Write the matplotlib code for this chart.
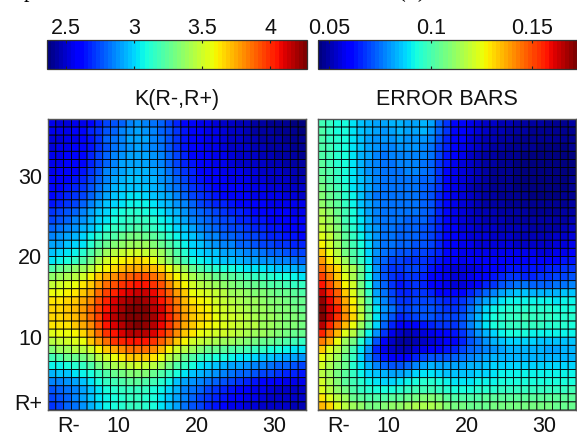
import numpy as np
import matplotlib
matplotlib.use("Agg")
import matplotlib.pyplot as plt

plt.rcParams['font.family'] = ['Liberation Sans', 'DejaVu Sans']

# K(R-,R+) in hundredths, top row (R+ = 36) first, columns R- = 1..33
K_rows = [
[254,252,252,254,256,262,266,272,276,280,285,287,285,283,278,272,268,262,260,256,254,252,250,248,246,245,243,242,241,240,239,238,237],
[254,254,256,258,262,266,270,276,280,284,288,290,288,285,280,275,270,265,262,258,256,254,252,250,248,246,244,243,242,241,240,239,238],
[252,252,254,256,258,264,270,278,282,286,290,290,290,286,282,276,270,264,260,258,256,254,252,250,248,246,245,244,243,242,241,240,239],
[252,254,256,258,260,264,270,276,282,286,288,290,288,286,282,276,270,264,260,258,256,254,252,250,250,248,246,245,244,243,242,241,240],
[254,256,258,260,262,266,272,278,284,288,292,292,292,288,284,278,272,266,262,260,258,256,254,252,250,250,248,246,245,244,243,242,241],
[254,256,258,260,262,268,274,280,286,290,292,292,291,289,286,280,274,268,264,260,258,256,254,252,250,250,250,248,246,245,244,243,242],
[256,258,260,262,264,270,276,284,289,292,294,294,293,291,287,282,276,270,266,262,260,258,256,256,254,252,252,250,250,248,246,245,244],
[258,258,260,264,266,272,278,285,291,294,296,296,295,293,289,284,278,272,268,264,262,260,258,256,256,254,252,252,250,250,248,247,246],
[260,262,264,266,270,276,282,288,294,296,298,298,298,295,291,286,281,276,270,268,264,262,260,258,258,256,254,254,252,252,250,250,248],
[262,264,266,270,274,280,286,292,297,300,302,302,301,298,294,290,285,280,274,270,268,264,262,260,260,258,256,256,254,254,252,252,250],
[264,266,270,274,278,284,290,296,300,303,306,306,305,302,298,294,289,284,278,274,270,268,266,264,262,260,258,258,256,256,254,254,254],
[270,272,276,280,284,290,296,301,306,309,312,312,310,307,303,298,293,288,282,278,276,272,270,268,266,264,262,260,260,258,258,256,256],
[274,276,278,284,288,294,299,304,309,313,316,316,315,311,307,302,296,292,286,282,278,276,274,272,268,266,264,264,262,260,260,258,258],
[280,282,284,288,294,298,304,310,314,316,318,320,318,314,310,306,300,296,290,286,282,280,276,274,272,270,268,266,264,264,262,260,260],
[284,288,290,294,300,306,312,318,322,326,330,330,328,324,318,312,306,300,296,290,286,284,280,278,276,274,272,270,268,266,264,264,262],
[290,292,296,300,304,312,320,328,332,336,340,340,338,334,328,320,314,306,300,296,292,288,286,284,280,278,276,274,272,270,270,268,266],
[298,300,302,306,312,320,330,338,344,348,350,350,348,344,338,330,322,312,304,300,298,296,292,290,288,286,284,282,280,278,276,274,272],
[304,306,310,316,322,330,342,350,356,360,364,366,362,356,346,336,328,318,310,306,304,300,298,296,294,292,290,288,288,286,284,282,280],
[322,326,330,336,340,346,354,360,366,372,375,376,376,373,366,358,348,338,328,320,316,312,310,308,306,304,302,302,300,298,296,294,292],
[335,338,342,346,352,360,368,376,382,388,391,392,392,388,380,370,360,350,342,336,332,328,326,324,320,318,316,314,312,310,308,306,304],
[348,350,354,358,362,370,378,388,394,400,403,404,404,400,392,382,370,360,350,346,342,338,336,332,330,328,326,324,322,320,318,316,314],
[356,358,360,364,368,376,386,396,402,408,412,414,414,408,400,390,378,368,358,354,350,348,344,340,338,336,334,332,330,328,326,324,322],
[362,364,366,370,374,382,392,402,410,416,420,422,421,414,406,396,384,372,364,360,356,352,348,344,342,340,338,336,334,332,330,328,326],
[366,366,368,372,378,386,396,406,414,420,425,427,426,418,410,400,388,376,368,364,360,354,350,348,346,342,340,338,336,334,332,330,328],
[366,366,368,372,378,386,396,408,416,422,426,427,427,420,412,402,390,378,370,366,362,356,352,350,348,344,342,340,338,336,334,332,330],
[362,362,364,368,374,382,392,404,412,418,423,425,424,416,408,398,386,376,368,364,360,358,354,352,348,346,344,340,338,336,334,332,330],
[354,356,358,360,366,376,386,398,406,412,416,418,417,410,402,392,380,370,362,358,354,352,350,348,346,342,340,338,336,332,330,328,326],
[344,348,350,354,358,368,378,388,398,402,405,406,405,400,390,380,368,360,352,348,344,342,340,338,336,332,330,328,326,324,322,318,316],
[334,338,340,344,346,352,360,370,376,382,386,388,388,380,372,360,352,344,338,332,328,326,324,322,320,318,316,314,310,308,306,304,302],
[318,322,326,328,330,336,344,352,358,364,368,370,370,364,356,346,338,328,322,316,312,310,308,306,304,302,300,298,296,294,292,290,288],
[306,306,310,312,316,322,330,336,342,346,348,350,348,344,338,330,322,314,308,304,300,298,294,292,290,288,286,284,282,280,278,276,274],
[294,296,298,302,306,310,316,322,326,330,332,334,332,328,322,316,310,302,298,294,290,288,284,282,280,278,276,274,272,270,268,266,264],
[284,286,288,292,298,304,308,314,318,320,324,324,322,318,312,306,298,292,288,284,282,278,276,272,270,268,264,262,260,258,256,256,254],
[276,278,282,286,292,298,304,308,312,314,316,316,314,310,306,300,294,286,282,278,274,270,268,264,262,258,256,254,252,250,250,250,248],
[272,276,280,284,290,296,302,306,310,312,314,314,312,308,304,298,292,284,278,274,270,266,264,260,258,256,254,252,250,250,250,248,248],
[270,274,278,282,288,294,300,306,310,312,314,314,312,308,304,298,290,282,276,272,268,264,260,256,254,252,252,250,250,248,248,246,246],
]

# Error bars in thousandths, same row and column order
E_rows = [
[100,97,93,93,90,86,84,82,81,84,84,82,82,84,82,74,68,62,62,58,56,54,53,52,51,50,50,49,49,48,48,48,49],
[101,98,94,94,90,86,83,81,80,82,83,81,81,83,80,73,67,61,60,57,55,53,52,51,50,49,49,48,48,47,47,47,48],
[101,98,95,94,90,85,82,80,79,80,81,80,80,80,78,71,66,61,59,56,54,52,51,50,49,48,48,47,47,47,47,47,47],
[102,99,95,94,90,85,82,79,78,78,79,79,79,78,76,70,65,60,58,55,53,51,50,49,48,48,47,47,46,46,46,46,47],
[102,99,96,93,89,84,81,78,76,77,78,78,78,77,75,69,64,59,57,54,52,50,49,48,48,47,46,46,46,46,46,46,46],
[103,100,96,93,89,84,80,77,75,75,77,77,77,76,74,68,63,58,56,53,51,50,49,48,47,46,46,45,45,45,45,46,46],
[104,101,97,93,90,84,80,77,75,75,76,77,77,75,73,67,62,58,55,53,51,49,48,47,47,46,46,45,45,45,45,45,46],
[106,102,98,94,90,85,81,77,75,75,76,76,76,74,73,67,62,58,55,53,51,49,48,47,47,46,46,45,45,45,46,46,47],
[108,104,99,95,90,85,81,77,75,75,76,76,75,74,72,67,62,58,55,52,50,49,48,47,47,46,46,46,46,46,46,46,47],
[110,106,101,96,91,85,80,76,75,75,76,75,75,74,72,66,62,58,55,53,51,50,49,48,48,47,47,46,46,46,46,47,48],
[112,108,103,97,92,86,81,77,75,75,75,75,75,74,72,66,62,58,56,53,51,50,49,49,48,48,47,47,47,47,47,48,49],
[116,112,106,99,93,88,82,78,76,75,75,75,75,74,71,66,62,58,56,54,52,51,51,50,49,49,49,48,48,48,48,49,50],
[118,114,108,100,94,90,84,78,76,75,75,74,74,73,70,66,62,58,56,54,53,52,52,51,50,50,50,49,49,49,49,50,52],
[120,116,110,102,96,90,84,79,76,75,74,74,74,72,70,66,62,59,56,55,54,53,53,52,51,51,51,50,50,50,50,51,53],
[124,119,112,104,98,91,85,80,76,75,74,74,74,72,70,66,62,59,57,55,55,55,54,53,53,52,52,52,52,52,53,54,56],
[128,122,114,105,99,93,87,80,76,75,74,73,72,71,70,65,62,60,58,57,56,56,56,56,55,54,54,54,54,54,55,56,57],
[134,126,117,108,102,96,88,80,75,73,72,71,70,70,68,65,61,60,58,58,58,58,58,58,57,57,57,57,56,56,57,58,60],
[140,130,122,114,104,98,90,78,73,70,70,68,68,68,66,63,60,59,58,59,59,59,60,60,60,60,60,61,61,61,62,63,64],
[146,138,132,120,116,105,92,80,72,68,68,70,70,67,63,60,58,56,55,56,58,60,61,62,64,64,63,63,64,65,66,67,68],
[152,144,134,124,116,106,92,80,72,68,66,68,68,66,62,60,58,56,55,57,60,62,64,66,68,68,66,66,67,68,69,70,72],
[158,150,140,128,122,108,94,80,74,68,64,66,67,65,62,60,58,56,55,58,62,66,68,72,74,75,75,74,74,74,75,76,78],
[164,156,148,134,124,112,98,82,76,70,66,66,68,68,65,62,60,60,62,66,70,74,78,82,84,86,86,84,84,84,84,85,86],
[170,160,150,138,128,116,102,86,78,72,68,68,70,70,69,67,65,65,67,72,78,82,86,90,92,92,92,92,91,91,90,91,92],
[172,162,156,140,130,118,104,90,80,76,70,70,72,72,72,70,68,68,70,76,82,88,92,94,96,96,96,96,96,96,94,94,94],
[172,164,154,142,132,120,106,90,78,72,66,68,70,72,72,70,70,70,72,78,84,90,94,96,98,98,100,98,98,98,96,95,96],
[166,156,146,136,126,114,102,88,74,66,60,60,62,64,66,68,68,68,72,78,84,90,94,96,98,98,98,98,97,96,95,95,94],
[156,146,136,124,118,106,92,80,68,58,54,52,54,56,58,60,62,64,68,74,80,84,88,92,94,94,94,92,92,92,92,91,92],
[144,138,126,114,108,96,86,72,60,54,50,50,52,54,56,58,60,62,66,72,76,80,84,86,88,88,88,88,86,86,86,86,86],
[134,124,118,110,100,90,80,66,58,54,52,52,56,58,60,62,64,66,70,74,76,78,80,82,84,84,84,84,84,82,82,84,84],
[126,120,114,106,98,88,78,70,64,60,60,62,66,70,72,72,72,74,76,78,80,82,84,84,84,84,84,84,84,84,84,84,84],
[122,116,110,106,96,90,84,78,74,72,72,74,78,82,84,82,82,82,82,84,84,86,88,88,88,88,88,88,88,88,88,88,88],
[118,114,108,104,98,92,88,86,84,82,82,84,88,90,90,88,86,86,86,86,88,88,90,92,92,92,92,92,92,92,92,92,92],
[122,116,110,104,100,96,92,90,88,88,90,92,94,96,96,94,92,90,90,90,92,92,92,94,94,94,94,94,94,94,94,94,94],
[124,118,112,108,102,98,96,94,94,94,96,98,100,100,100,98,96,94,94,94,96,96,96,98,98,98,98,98,98,98,98,98,100],
[130,124,118,114,106,104,102,102,102,104,104,106,108,110,110,108,104,102,102,102,102,104,104,104,104,104,104,104,104,104,104,104,104],
[136,132,124,118,114,112,108,108,110,112,112,114,116,116,116,114,110,108,108,106,106,106,108,108,108,108,108,108,108,108,106,106,106],
]

K_ticks = [2.5, 3, 3.5, 4]
K_tick_labels = ['2.5', '3', '3.5', '4']
E_ticks = [0.05, 0.1, 0.15]
E_tick_labels = ['0.05', '0.1', '0.15']
x_ticks = [3.6, 10, 20, 30]
x_labels = ['R-', '10', '20', '30']
y_ticks = [2, 10, 20, 30]
y_labels = ['R+', '10', '20', '30']
titles = ['K(R-,R+)', 'ERROR BARS']

W, H = 577, 436
FS = 15.5
GRAY = '#555555'


def box(x0, y0, x1, y1):
    return [x0 / W, 1 - y1 / H, (x1 - x0) / W, (y1 - y0) / H]


fig = plt.figure(figsize=(W / 100, H / 100), dpi=100)
cmap = plt.get_cmap('jet', 64)
panels = [
    (np.array(K_rows) / 100.0, (2.36, 4.27), (48, 306), (47, 307), K_ticks, K_tick_labels, titles[0], True),
    (np.array(E_rows) / 1000.0, (0.0446, 0.172), (318, 576), (318, 577), E_ticks, E_tick_labels, titles[1], False),
]
for data, (vmin, vmax), (x0, x1), (c0, c1), cticks, clabels, title, show_y in panels:
    ax = fig.add_axes(box(x0, 119, x1, 410))
    xe = np.arange(1, data.shape[1] + 2)
    ye = np.arange(data.shape[0] + 1, 0, -1)
    mesh = ax.pcolormesh(xe, ye, data, cmap=cmap, vmin=vmin, vmax=vmax,
                         edgecolors='black', linewidth=0.6, antialiased=True)
    mesh.set_snap(False)
    ax.set_xlim(1, data.shape[1] + 1)
    ax.set_ylim(1, data.shape[0] + 1)
    ax.set_xticks(x_ticks, x_labels)
    if show_y:
        ax.set_yticks(y_ticks, y_labels)
    else:
        ax.set_yticks([])
    ax.tick_params(length=0, labelsize=FS, pad=4, labelcolor='#111111')
    for s in ax.spines.values():
        s.set_color(GRAY)
        s.set_linewidth(1.0)
    ax.set_title(title, fontsize=FS, pad=10, color='#111111')

    cax = fig.add_axes(box(c0, 40, c1, 69))
    cb = fig.colorbar(mesh, cax=cax, orientation='horizontal')
    cb.set_ticks(cticks, labels=clabels)
    cb.minorticks_off()
    cax.xaxis.set_ticks_position('both')
    cax.tick_params(axis='x', direction='in', length=2, width=0.8, color='#222222',
                    labelbottom=False, labeltop=True, labelsize=FS, pad=1, labelcolor='#111111')
    cb.outline.set_edgecolor('#333333')
    cb.outline.set_linewidth(0.9)

# Caption of the page above, cut off by the top edge of the picture
fig.text(29 / W, 1 + 3 / H, 'p', family='Liberation Serif', fontsize=16, ha='center', va='baseline')
fig.text(412 / W, 1 + 3 / H, '(x)', family='Liberation Serif', fontsize=17, ha='center', va='baseline')

fig.savefig('out.png', dpi=100)
